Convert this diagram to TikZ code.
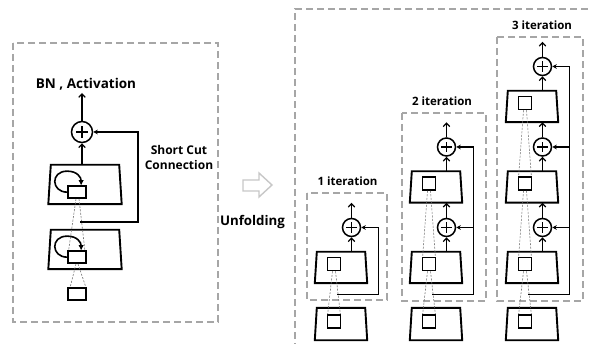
\documentclass[tikz,border=0pt]{standalone}
\usepackage{fontspec}
\setmainfont{Open Sans}
\usetikzlibrary{arrows.meta,calc}

% outline of a layer: a trapezium widening downwards, drawn round a named node
\newcommand{\layeroutline}[2]{%
  \draw[line width=1.9pt, line join=miter]
    (#1.north west) -- (#1.north east) -- ([xshift=#2]#1.south east)
    -- ([xshift=-#2]#1.south west) -- cycle;}

\begin{document}
\begin{tikzpicture}[x=1pt,y=-1pt,
  frame/.style={draw=black!35, line width=1.3pt, dash pattern=on 7pt off 4pt},
  block/.style={rectangle, inner sep=0pt, minimum width=48pt, minimum height=31pt},
  cell/.style={draw, line width=1.7pt, rectangle, inner sep=0pt,
    minimum width=13pt, minimum height=13pt},
  sum/.style={draw, circle, line width=1.5pt, inner sep=0pt, minimum size=#1,
    path picture={\draw[line width=1.6pt]
      (path picture bounding box.center) +(-0.28*#1,0) -- +(0.28*#1,0)
      (path picture bounding box.center) +(0,-0.28*#1) -- +(0,0.28*#1);}},
  sum/.default=18pt,
  flow/.style={line width=1.2pt, -{Straight Barb[length=3.5pt,width=6.5pt]}},
  skip/.style={line width=1.2pt, -{Stealth[length=4.5pt,width=4.5pt]}},
  field/.style={draw=black!55, line width=0.6pt, dash pattern=on 2pt off 1.5pt},
  loop/.style={line width=1.6pt, -{Latex[length=5.5pt,width=5.5pt]}},
  lbl/.style={font=\bfseries, inner sep=0pt, anchor=base},
]
\useasboundingbox (0,0) rectangle (591,344);

% ---------- folded network (left) ----------
\draw[frame] (13,43) rectangle (218,322);

\node[lbl, font=\bfseries\fontsize{13.5pt}{15pt}\selectfont] (bnact) at (86,89) {BN , Activation};
\node[sum=21pt] (sumL) at (82,132) {};

\node[block, minimum width=68pt, minimum height=39pt] (blkA) at (85,184.5) {};
\layeroutline{blkA}{2.5pt}
\node[cell, minimum width=18pt, minimum height=12pt] (rA) at (77,192) {};
\node[block, minimum width=68pt, minimum height=39pt] (blkB) at (85,249.5) {};
\layeroutline{blkB}{2.5pt}
\node[cell, minimum width=18pt, minimum height=12pt] (rB) at (77,257) {};
\node[cell, minimum width=18pt, minimum height=12pt] (rIn) at (77,294) {};

% recurrent loops on the hidden cells
\foreach \r in {rA,rB}{
  \draw[loop] ($(\r.north west)+(0,7)$)
    .. controls ($(\r.north west)+(-16,7)$) and ($(\r.north west)+(-17,-14)$) .. ($(\r.north west)+(0,-14)$)
    .. controls ($(\r.north west)+(10,-14)$) and ($(\r.north west)+(14,-8)$) .. ($(\r.north west)+(14,0.5)$);
}

% receptive fields
\draw[field] ($(rA.south)+(-1,0)$) -- ($(rB.north west)+(1.5,0)$);
\draw[field] ($(rA.south)+(2,0)$) -- ($(rB.north east)+(-2,0)$);
\draw[field] ($(rB.south)+(-1,0)$) -- ($(rIn.north west)+(3,0)$);
\draw[field] ($(rB.south)+(1,0)$) -- ($(rIn.north east)+(-1,0)$);

\draw[flow] (blkA.north -| sumL) -- (sumL.south);
\coordinate (outL) at (82,93);
\draw[flow] (sumL.north) -- (outL);

\coordinate (scA) at (80,222);
\coordinate (scT) at (138,222);
\draw[skip] (scA) -- (scT) |- (sumL.east);

\node[font=\bfseries\fontsize{12pt}{15pt}\selectfont, align=center, inner sep=0pt, anchor=base]
  (sc) at (179,169.3) {Short Cut\\Connection};

% ---------- unfolding arrow ----------
\draw[draw=black!22, fill=white, line width=1.4pt, line join=miter]
  (243,180) -- (259,180) -- (259,173) -- (272,185) -- (259,197) -- (259,191) -- (243,191) -- cycle;
\node[lbl, font=\bfseries\fontsize{13.3pt}{16pt}\selectfont] (unf) at (252.5,225.5) {Unfolding};

% ---------- unfolded network (right) ----------
\draw[frame] (295,350) -- (295,9) -- (600,9);

\draw[frame] (307,193) rectangle (387,300);
\draw[frame] (402,113) rectangle (486,301);
\draw[frame] (497,37) rectangle (583,301);

\node[lbl, font=\bfseries\fontsize{11.5pt}{13pt}\selectfont] (it1) at (347.5,185.7) {1 iteration};
\node[lbl, font=\bfseries\fontsize{11.5pt}{13pt}\selectfont] (it2) at (442,105.5) {2 iteration};
\node[lbl, font=\bfseries\fontsize{11.5pt}{13pt}\selectfont] (it3) at (542,30) {3 iteration};

\foreach \c/\X/\n in {1/341/1, 2/436/2, 3/532/3}{
  \node[block, minimum height=32pt] (in\c) at (\X,324) {};
  \layeroutline{in\c}{2pt}
  \node[cell] (ri\c) at (\X-7,321.5) {};
  \foreach \j in {1,...,\n}{
    \pgfmathsetmacro\yb{267.5-80.5*(\j-1)}
    \node[block] (b\c-\j) at (\X,\yb) {};
    \layeroutline{b\c-\j}{2pt}
    \node[cell] (r\c-\j) at (\X-7,\yb-3.5) {};
    \node[sum] (s\c-\j) at (\X+10.5,\yb-40) {};
    \draw[flow] (b\c-\j.north -| s\c-\j) -- (s\c-\j.south);
  }
  % skip path shared by all the sums of the column
  \coordinate (h\c) at (\X-4,294.5);
  \coordinate (v\c) at (\X+37.5,294.5);
  \draw[skip] (h\c) -- (v\c) |- (s\c-\n.east);
  % output arrow
  \coordinate (o\c) at ($(s\c-\n.north)+(0,-15)$);
  \draw[flow] (s\c-\n.north) -- (o\c);
  % receptive field from the first level to the input
  \draw[field] ($(r\c-1.south)+(-1.5,0)$) -- ($(ri\c.north west)+(1,0)$);
  \draw[field] ($(r\c-1.south)+(1.5,0)$) -- ($(ri\c.north east)+(-1,0)$);
}

% links between stacked levels
\foreach \c/\j/\k in {2/1/2, 3/1/2, 3/2/3}{
  \draw[flow] (s\c-\j.north) -- (b\c-\k.south -| s\c-\j);
  \draw[skip] (v\c |- s\c-\j) -- (s\c-\j.east);
  \draw[field] ($(r\c-\k.south)+(-1.5,0)$) -- ($(r\c-\j.north west)+(1,0)$);
  \draw[field] ($(r\c-\k.south)+(1.5,0)$) -- ($(r\c-\j.north east)+(-1,0)$);
}
\end{tikzpicture}
\end{document}
